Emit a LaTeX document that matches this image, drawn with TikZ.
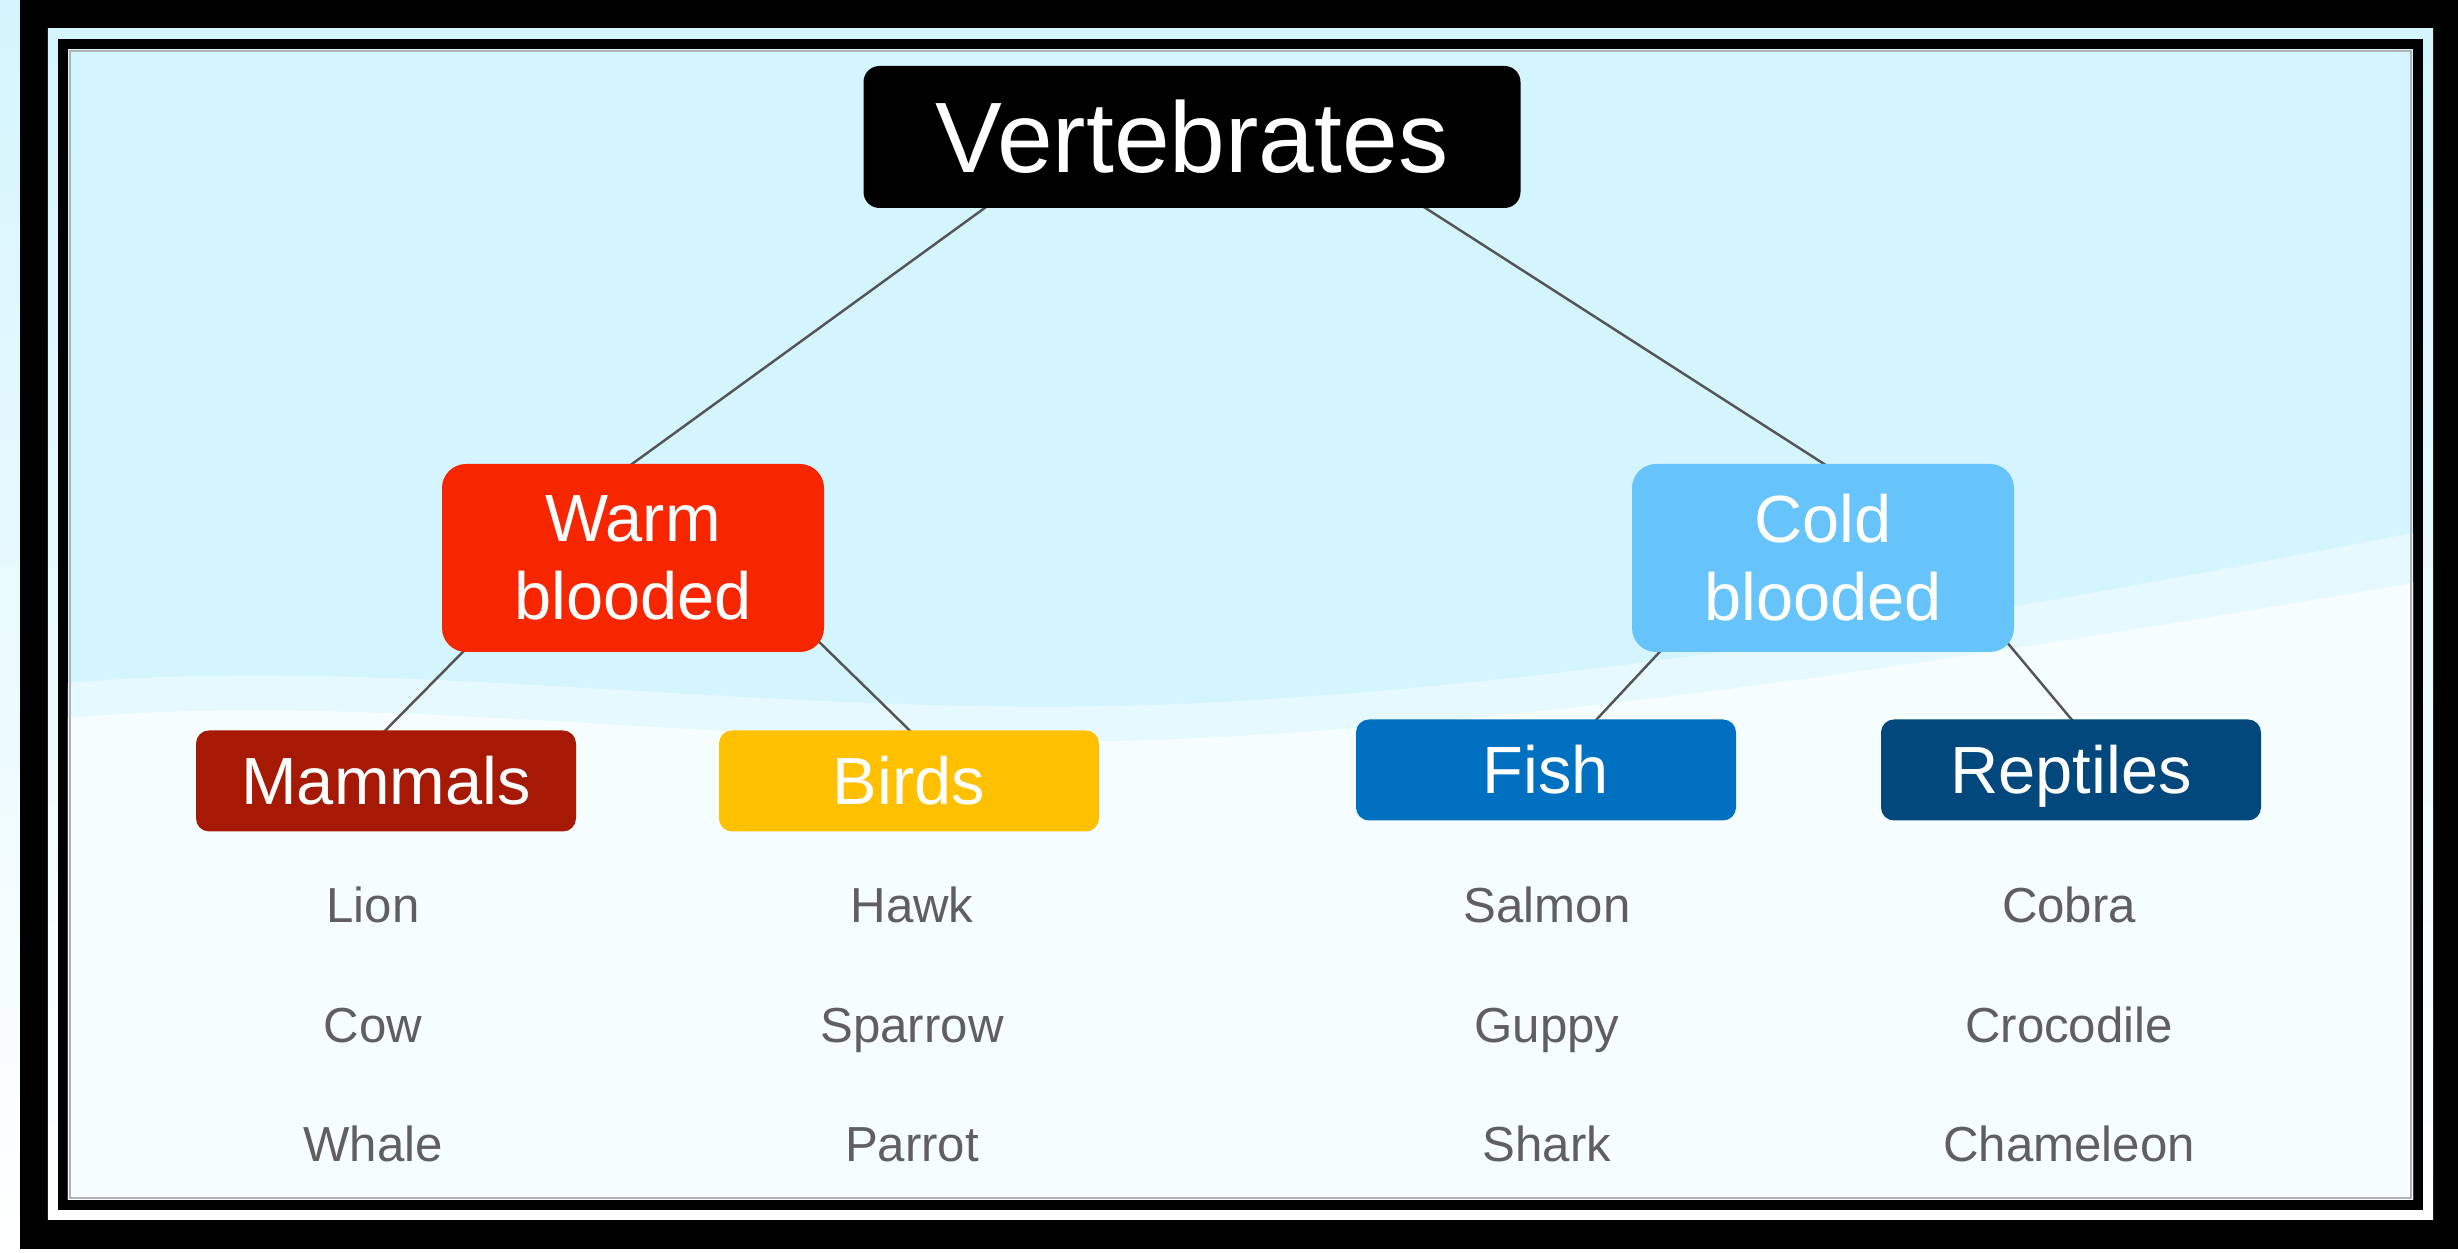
\documentclass[tikz,border=0pt]{standalone}
\usepackage{fontspec}
\setmainfont{Liberation Sans}
\definecolor{sky}{RGB}{212,245,253}
\definecolor{pale}{RGB}{230,249,254}
\definecolor{snow}{RGB}{246,253,255}
\definecolor{warmred}{RGB}{245,38,0}
\definecolor{coldblue}{RGB}{102,196,250}
\definecolor{mamred}{RGB}{165,25,5}
\definecolor{birdyellow}{RGB}{255,192,0}
\definecolor{fishblue}{RGB}{0,112,192}
\definecolor{reptblue}{RGB}{3,72,125}
\definecolor{itemgray}{RGB}{95,95,95}
\definecolor{linegray}{RGB}{85,85,85}
\pgfdeclarelayer{frame}
\pgfdeclarelayer{links}
\pgfsetlayers{frame,links,main}

\begin{document}
\begin{tikzpicture}[
	catbox/.style={rounded corners=0.24cm, minimum width=3.82cm, minimum height=1.88cm, inner sep=0pt, text=white, align=center, font=\fontsize{19}{22.2}\selectfont},
	groupbox/.style={rounded corners=0.13cm, minimum width=3.8cm, minimum height=1.01cm, inner sep=0pt, text=white, text height=0.48cm, text depth=0pt, font=\fontsize{19}{22}\selectfont},
	animal/.style={inner sep=0pt, text=itemgray, text height=0.355cm, text depth=0pt, font=\fontsize{14}{16}\selectfont},
	link/.style={draw=linegray, line width=0.7pt, shorten <=-3pt, shorten >=-3pt}]
\useasboundingbox (0,0) rectangle (24.58,12.53);
\begin{pgfonlayer}{frame}
\shade[top color=sky, bottom color=white] (0,0) rectangle (24.58,12.53);
\fill[black] (0.20,0.04) rectangle (24.58,12.53);
\shade[top color=sky, bottom color=white] (0.48,0.33) rectangle (24.33,12.24);
\fill[black] (0.58,0.43) rectangle (24.23,12.14);
\fill[sky] (0.68,0.53) rectangle (24.13,12.04);
	\fill[pale] (0.68,0.53) -- (0.68,5.7) .. controls (4,6.0) and (8,5.3) .. (12,5.5) .. controls (16,5.7) and (20,6.4) .. (24.13,7.2) -- (24.13,0.53) -- cycle;
	\fill[snow] (0.68,0.53) -- (0.68,5.35) .. controls (4,5.65) and (8,4.95) .. (12,5.15) .. controls (16,5.35) and (20,6.0) .. (24.13,6.7) -- (24.13,0.53) -- cycle;
\draw[black!30, line width=0.8pt] (0.70,0.55) rectangle (24.11,12.02);
\end{pgfonlayer}
%
\node[fill=black, rounded corners=0.16cm, minimum width=6.57cm, minimum height=1.42cm, inner sep=0pt, text=white, text height=0.72cm, text depth=0pt, font=\fontsize{28.5}{34}\selectfont] (vert) at (11.92,11.16) {Vertebrates};
%
\node[catbox, fill=warmred] (warm) at (6.33,6.95) {Warm\\blooded};
\node[catbox, fill=coldblue] (cold) at (18.23,6.95) {Cold\\blooded};
%
\node[groupbox, fill=mamred] (mam) at (3.86,4.72) {Mammals};
\node[groupbox, fill=birdyellow] (bird) at (9.09,4.72) {Birds};
\node[groupbox, fill=fishblue] (fish) at (15.46,4.83) {Fish};
\node[groupbox, fill=reptblue] (rept) at (20.71,4.83) {Reptiles};
%
\node[animal] (lion) at (3.73,3.48) {Lion};
\node[animal] (cow) at (3.73,2.28) {Cow};
\node[animal] (whale) at (3.73,1.09) {Whale};
\node[animal] (hawk) at (9.12,3.48) {Hawk};
\node[animal] (sparrow) at (9.12,2.28) {Sparrow};
\node[animal] (parrot) at (9.12,1.09) {Parrot};
\node[animal] (salmon) at (15.47,3.48) {Salmon};
\node[animal] (guppy) at (15.47,2.28) {Guppy};
\node[animal] (shark) at (15.47,1.09) {Shark};
\node[animal] (cobra) at (20.69,3.48) {Cobra};
\node[animal] (croc) at (20.69,2.28) {Crocodile};
\node[animal] (chamel) at (20.69,1.09) {Chameleon};
%
\begin{pgfonlayer}{links}
	\draw[link] (vert.199) -- (warm.north);
	\draw[link] (vert.343) -- (cold.north);
	\draw[link] (warm.209) -- (mam.north);
	\draw[link] (warm.335) -- (bird.north);
	\draw[link] (cold.210) -- (fish.45);
	\draw[link] (cold.334) -- (rept.north);
\end{pgfonlayer}
\end{tikzpicture}
\end{document}
